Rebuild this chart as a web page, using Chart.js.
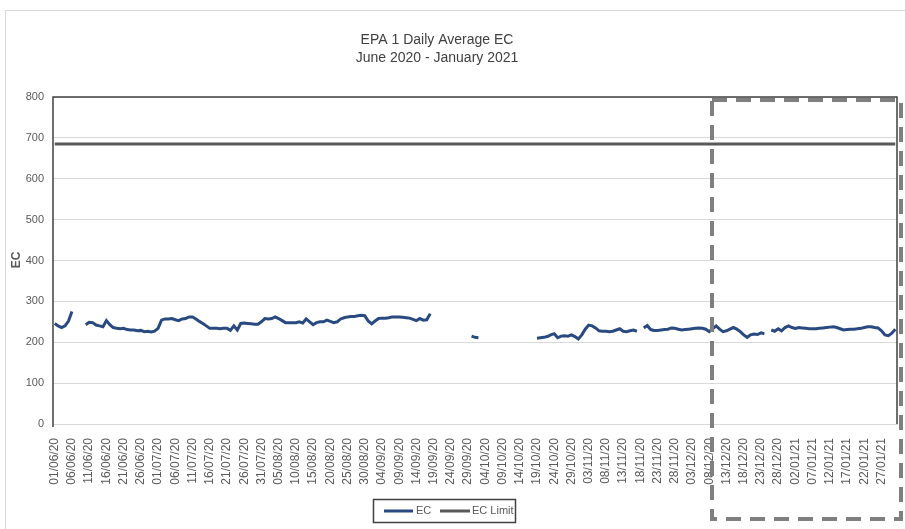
<!DOCTYPE html>
<html><head><meta charset="utf-8">
<script src="https://cdn.jsdelivr.net/npm/chart.js@4/dist/chart.umd.min.js"></script>
<style>html,body{margin:0;padding:0;background:#fff;}#wrap{width:905px;height:529px;position:relative}</style>
</head><body><div id="wrap"><canvas id="c" width="905" height="529"></canvas></div>
<script>
const titleLines = ['EPA 1 Daily Average EC', 'June 2020 - January 2021'];
const yAxisTitle = 'EC';
const seriesNames = ['EC', 'EC Limit'];
const firstDay = { year: 2020, month: 5, day: 1 }; // 01/06/20
const dayCount = 245;                               // 01/06/20 .. 31/01/21
const labelEvery = 5;
const ecLimit = 685;
const yTicks = [0, 100, 200, 300, 400, 500, 600, 700, 800];
const ecValues = [
  246, 240, 236, 240, 252, 275, null, null, null,
  243, 249, 248, 242, 240, 238, 253, 243, 236, 234, 233, 234, 231, 230, 230, 228, 229, 226, 227, 225, 227,
  234, 254, 257, 257, 258, 255, 253, 257, 258, 262, 262, 257, 251, 246, 240, 234, 234, 234, 233,
  234, 234, 229, 240, 230, 246, 247, 246, 245, 244, 244, 250, 258, 257, 258, 262, 258, 253, 248, 248, 248, 248,
  250, 247, 257, 250, 243, 248, 250, 250, 254, 251, 248, 250, 257, 260, 262, 263, 263, 265, 266, 265, 252, 245,
  252, 258, 259, 259, 260, 262, 262, 262, 261, 260, 259, 256, 253, 258, 254, 255, 270,
  null, null, null, null, null, null, null, null, null, null, null,
  215, 212, 211,
  null, null, null, null, null, null, null, null, null, null, null, null, null, null, null, null,
  210, 211, 212, 214, 218, 221, 211, 215, 216, 215, 218, 214, 208, 218, 232, 242, 240, 235, 228, 227,
  227, 226, 227, 230, 233, 227, 226, 228, 230, 227,
  null,
  235, 241, 231, 229, 229, 230, 231, 232, 235, 234, 232, 230, 231, 232, 233, 234, 235, 234, 232, 226,
  233, 240, 232, 226, 228, 232, 236, 232, 226, 218, 212, 218, 220, 219, 223, 221,
  null,
  230, 227, 233, 228, 236, 240, 236, 234, 236, 235, 234, 233, 233, 233, 234, 235, 236, 237, 238, 236,
  233, 230, 231, 232, 232, 233, 234, 236, 238, 238, 236, 235, 228, 218, 216, 222, 232
];

const pad = n => String(n).padStart(2, '0');
const dateLabels = [];
for (let i = 0; i < dayCount; i++) {
  const d = new Date(firstDay.year, firstDay.month, firstDay.day + i);
  dateLabels.push(pad(d.getDate()) + '/' + pad(d.getMonth() + 1) + '/' + String(d.getFullYear()).slice(2));
}
const limitValues = dateLabels.map(() => ecLimit);

const FONT = "'Liberation Sans', Arial, sans-serif";
Chart.defaults.font.family = FONT;

const decor = {
  id: 'decor',
  beforeDraw(chart) {
    const ctx = chart.ctx;
    ctx.save();
    ctx.fillStyle = '#fff';
    ctx.fillRect(0, 0, chart.width, chart.height);
    ctx.strokeStyle = '#d9d9d9';
    ctx.lineWidth = 1;
    ctx.strokeRect(5.5, 10.5, 920, 540);
    ctx.restore();
  },
  afterDatasetsDraw(chart) {
    const ctx = chart.ctx, a = chart.chartArea;
    ctx.save();
    ctx.strokeStyle = '#404040';
    ctx.lineWidth = 1.5;
    ctx.beginPath();
    ctx.moveTo(a.left, a.bottom + 3);
    ctx.lineTo(a.left, a.top);
    ctx.lineTo(a.right, a.top);
    ctx.lineTo(a.right, a.bottom);
    ctx.stroke();
    ctx.restore();
  },
  afterDraw(chart) {
    const ctx = chart.ctx;
    ctx.save();
    // title
    ctx.fillStyle = '#404040';
    ctx.textAlign = 'center';
    ctx.textBaseline = 'middle';
    ctx.font = '14px ' + FONT;
    ctx.fillText(titleLines[0], 437, 40);
    ctx.fillText(titleLines[1], 437, 58);
    // y title
    ctx.save();
    ctx.translate(17, 260);
    ctx.rotate(-Math.PI / 2);
    ctx.font = 'bold 12px ' + FONT;
    ctx.fillStyle = '#595959';
    ctx.fillText(yAxisTitle, 0, 0);
    ctx.restore();
    // legend
    ctx.strokeStyle = '#404040';
    ctx.lineWidth = 1.5;
    ctx.strokeRect(373.5, 499.5, 142, 23);
    ctx.lineWidth = 3;
    ctx.strokeStyle = '#284a80';
    ctx.beginPath(); ctx.moveTo(384, 511); ctx.lineTo(413, 511); ctx.stroke();
    ctx.strokeStyle = '#595959';
    ctx.beginPath(); ctx.moveTo(440, 511); ctx.lineTo(470, 511); ctx.stroke();
    ctx.fillStyle = '#595959';
    ctx.textAlign = 'left';
    ctx.font = '11px ' + FONT;
    ctx.fillText(seriesNames[0], 416, 511);
    ctx.fillText(seriesNames[1], 472, 511);
    // dashed highlight box
    ctx.strokeStyle = '#7f7f7f';
    ctx.lineWidth = 4;
    ctx.setLineDash([15, 9]);
    ctx.strokeRect(712, 100, 189, 419);
    ctx.restore();
  }
};

new Chart(document.getElementById('c'), {
  type: 'line',
  data: {
    labels: dateLabels,
    datasets: [
      { label: seriesNames[0], data: ecValues, borderColor: '#284a80', borderWidth: 3, pointRadius: 0, spanGaps: false, tension: 0 },
      { label: seriesNames[1], data: limitValues, borderColor: '#595959', borderWidth: 3, pointRadius: 0, tension: 0 }
    ]
  },
  options: {
    responsive: false,
    animation: false,
    devicePixelRatio: 1,
    layout: { padding: { left: 0, top: 97, right: 8, bottom: 0 } },
    plugins: { legend: { display: false }, title: { display: false }, tooltip: { enabled: false } },
    scales: {
      x: {
        offset: true,
        grid: { display: false },
        border: { display: true, color: '#d9d9d9' },
        ticks: {
          autoSkip: false, maxRotation: 90, minRotation: 90, padding: 6,
          color: '#595959', font: { size: 12 },
          callback: (v, i) => (i % labelEvery === 0 ? dateLabels[i] : '')
        },
        afterFit: s => { s.height = 105; s.paddingLeft = 0; s.paddingRight = 0; }
      },
      y: {
        min: yTicks[0], max: yTicks[yTicks.length - 1],
        afterBuildTicks: s => { s.ticks = yTicks.map(v => ({ value: v })); },
        grid: { color: '#d9d9d9', drawTicks: false },
        border: { display: false },
        ticks: { color: '#595959', font: { size: 11 }, padding: 9 },
        afterFit: s => { s.width = 53; s.paddingTop = 0; s.paddingBottom = 0; }
      }
    }
  },
  plugins: [decor]
});
</script></body></html>
